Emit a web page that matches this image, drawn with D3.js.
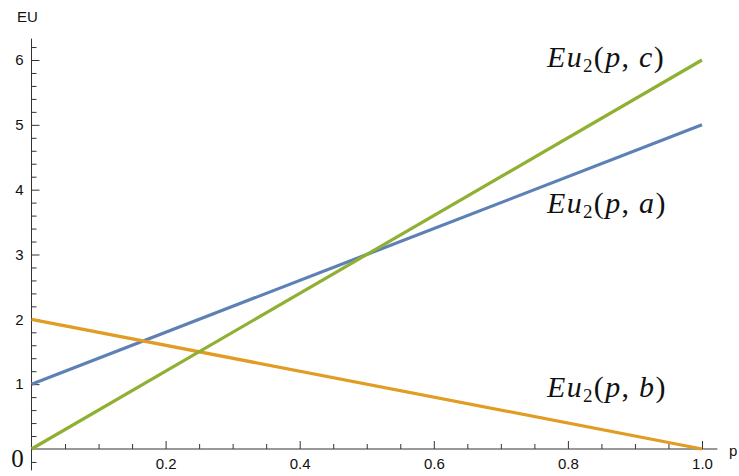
<!DOCTYPE html>
<html><head><meta charset="utf-8">
<script src="https://cdn.jsdelivr.net/npm/d3@7"></script>
<style>
body{margin:0;background:#fff;}
svg{display:block;}
.tick text{font-family:"Liberation Sans",Arial,sans-serif;font-size:15px;fill:#111;}
</style></head>
<body>
<svg id="c" width="739" height="476"></svg>
<script>
// data
const pValues = [0, 1];
const seriesNames = ["a", "b", "c"];
const seriesA = [1, 5];
const seriesB = [2, 0];
const seriesC = [0, 6];
const colors = ["#5E81B5", "#E19C24", "#8FB032"];
const xTicks = [0.2, 0.4, 0.6, 0.8, 1.0];
const yTicks = [1, 2, 3, 4, 5, 6];
const xMinor = [0.05,0.1,0.15,0.25,0.3,0.35,0.45,0.5,0.55,0.65,0.7,0.75,0.85,0.9,0.95];
const yMinor = [-0.2,0.2,0.4,0.6,0.8,1.2,1.4,1.6,1.8,2.2,2.4,2.6,2.8,3.2,3.4,3.6,3.8,4.2,4.4,4.6,4.8,5.2,5.4,5.6,5.8,6.2];

const svg = d3.select("#c");
const x = d3.scaleLinear().domain([0, 1]).range([31.5, 702]);
const y = d3.scaleLinear().domain([0, 6]).range([449, 60]);
const axisColor = "#333";

// axes lines
svg.append("line").attr("x1", x(0)).attr("x2", x(1.023)).attr("y1", y(0)).attr("y2", y(0))
  .attr("stroke", axisColor).attr("stroke-width", 1);
svg.append("line").attr("x1", x(0)).attr("x2", x(0)).attr("y1", y(-0.33)).attr("y2", y(6.33))
  .attr("stroke", axisColor).attr("stroke-width", 1);

function styleAxis(g){
  g.select(".domain").remove();
  g.selectAll(".tick line").attr("stroke", axisColor);
}
// x axis major
svg.append("g").attr("transform", `translate(0,${y(0)})`)
  .call(d3.axisBottom(x).tickValues(xTicks).tickFormat(d3.format(".1f")).tickSize(-8).tickPadding(9))
  .call(styleAxis);
svg.append("g").attr("transform", `translate(0,${y(0)})`)
  .call(d3.axisBottom(x).tickValues(xMinor).tickFormat("").tickSize(-5))
  .call(styleAxis);
// y axis
svg.append("g").attr("transform", `translate(${x(0)},0)`)
  .call(d3.axisLeft(y).tickValues(yTicks).tickFormat(d3.format("d")).tickSize(-8).tickPadding(8))
  .call(styleAxis);
svg.append("g").attr("transform", `translate(${x(0)},0)`)
  .call(d3.axisLeft(y).tickValues(yMinor).tickFormat("").tickSize(-5))
  .call(styleAxis);

// axis labels
svg.append("text").attr("x", 17).attr("y", 22).text("EU")
  .attr("font-family", "Liberation Sans, Arial, sans-serif").attr("font-size", 15).attr("fill", "#111");
svg.append("text").attr("x", 729).attr("y", 456).text("p")
  .attr("font-family", "Liberation Sans, Arial, sans-serif").attr("font-size", 15).attr("fill", "#111");
svg.append("text").attr("x", 17.5).attr("y", 467).attr("text-anchor", "middle").text("0")
  .attr("font-family", "Liberation Serif, Times New Roman, serif").attr("font-size", 25).attr("fill", "#111");

// lines
const seriesVals = [seriesA, seriesB, seriesC];
const line = d3.line().x((d, i) => x(pValues[i])).y(d => y(d));
seriesVals.forEach((vals, k) => {
  svg.append("path").datum(vals).attr("d", line).attr("fill", "none")
    .attr("stroke", colors[k]).attr("stroke-width", 3.2);
});

// series labels
const labelPos = {a: [0.769, 3.64], b: [0.769, 0.80], c: [0.769, 5.89]};
seriesNames.forEach(n => {
  const [px, py] = labelPos[n];
  const t = svg.append("text").attr("x", x(px)).attr("y", y(py))
    .attr("font-family", "Liberation Serif, Times New Roman, serif").attr("font-size", 30)
    .attr("letter-spacing", 1.3).attr("fill", "#111");
  t.append("tspan").attr("font-style", "italic").text("Eu");
  t.append("tspan").attr("font-size", 19).attr("dy", 5).text("2");
  t.append("tspan").attr("dy", -5).text("(");
  t.append("tspan").attr("font-style", "italic").text("p");
  t.append("tspan").text(", ");
  t.append("tspan").attr("font-style", "italic").text(n);
  t.append("tspan").text(")");
});
</script>
</body></html>
